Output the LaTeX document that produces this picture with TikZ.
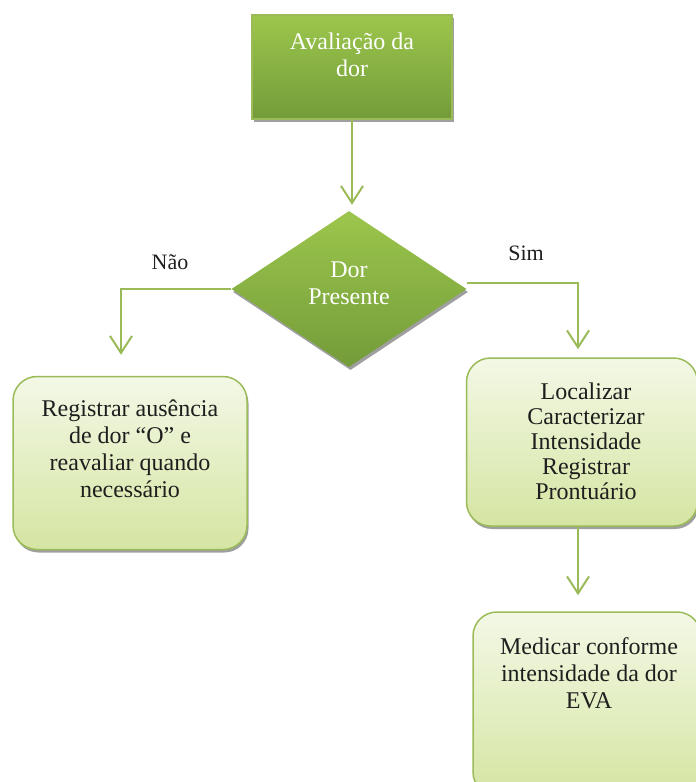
\documentclass[tikz,border=0pt]{standalone}
\usepackage{fontspec}
\setmainfont{Liberation Serif}
\usetikzlibrary{shapes.geometric,arrows.meta,shadows}

\definecolor{leafTop}{HTML}{9CC64C}
\definecolor{leafBot}{HTML}{739C3A}
\definecolor{paleTop}{HTML}{F3F8E6}
\definecolor{paleBot}{HTML}{D5E5A2}
\definecolor{edgeGreen}{HTML}{9BBB59}
\definecolor{inkDark}{HTML}{1E1E1E}

\tikzset{
  boxshadow/.style={general shadow={fill=gray!75, shadow xshift=1.5pt, shadow yshift=-3pt}},
  darkbox/.style={draw=edgeGreen, line width=1.5pt, top color=leafTop, bottom color=leafBot,
                  minimum width=200pt, minimum height=104pt, boxshadow},
  decision/.style={diamond, draw=none, top color=leafTop, bottom color=leafBot,
                   minimum width=235pt, minimum height=156pt, inner sep=0pt, boxshadow},
  palebox/.style={draw=edgeGreen, line width=1.5pt, rounded corners=24pt,
                  top color=paleTop, bottom color=paleBot, boxshadow},
  whitetext/.style={text=white, font=\fontsize{24}{27}\selectfont, align=center},
  darktext/.style={text=inkDark, font=\fontsize{24}{27}\selectfont, align=center},
  flow/.style={draw=edgeGreen, line width=2pt, -{Straight Barb[length=17pt, width=22pt, line width=2pt]}},
  tag/.style={text=inkDark, font=\fontsize{22}{26}\selectfont}
}

\begin{document}
\begin{tikzpicture}[x=1pt, y=-1pt]
  \useasboundingbox (0,0) rectangle (696,782);

  % shapes
  \node[darkbox] (eval) at (352,67) {};
  \node[decision] (dec) at (349,289) {};
  \node[palebox, minimum width=234pt, minimum height=173pt] (none) at (130,463) {};
  \node[palebox, minimum width=231pt, minimum height=168pt] (pres) at (582,442) {};
  \node[palebox, minimum width=228pt, minimum height=184pt] (med) at (587,704) {};

  % texts
  \node[whitetext] (evalT) at (352,55) {Avaliação da\\dor};
  \node[whitetext] (decT) at (349,283) {Dor\\Presente};
  \node[darktext] (noneT) at (130,449) {Registrar ausência\\de dor “O” e\\reavaliar quando\\necessário};
  \node[darktext, font=\fontsize{24}{25}\selectfont] (presT) at (586,441) {Localizar\\Caracterizar\\Intensidade\\Registrar\\Prontuário};
  \node[darktext] (medT) at (589,673) {Medicar conforme\\intensidade da dor\\EVA};

  % connector corners
  \coordinate (leftTurn) at (121,289);
  \coordinate (rightTurn) at (578,283);
  \coordinate (rightStart) at (467,283);

  % connectors
  \draw[flow, shorten >=6pt] (eval.south) -- (eval.south |- dec.north);
  \draw[flow, shorten >=21pt] (dec.west) -- (leftTurn) -- (leftTurn |- none.north);
  \draw[flow, shorten >=8pt] (rightStart) -- (rightTurn) -- (rightTurn |- pres.north);
  \draw[flow, shorten >=16pt] (pres.south -| rightTurn) -- (rightTurn |- med.north);

  % branch labels
  \node[tag] (no) at (170,262) {Não};
  \node[tag] (yes) at (526,253) {Sim};
\end{tikzpicture}
\end{document}
